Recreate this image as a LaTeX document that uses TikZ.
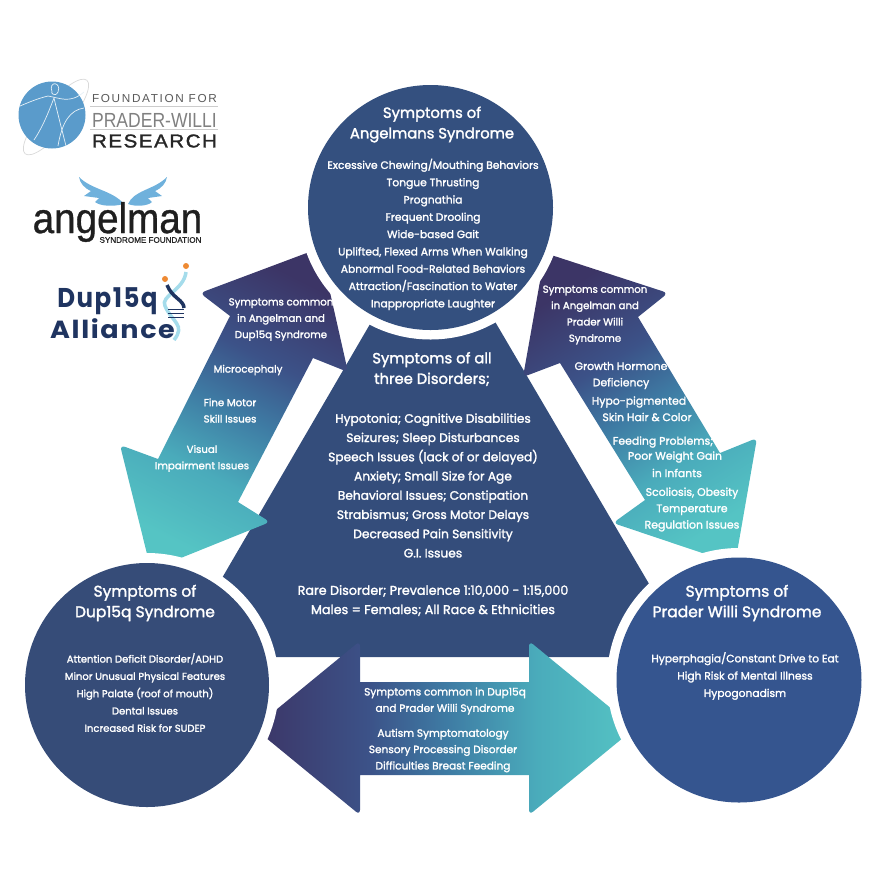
\documentclass[tikz,border=0pt]{standalone}
\usepackage{fontspec}
\usepackage{graphicx}
\setmainfont{Poppins}[FakeBold=1.8]
\newfontfamily\logofont{Liberation Sans}
\newfontfamily\allyfont{Poppins}
\definecolor{trianglec}{HTML}{344D7B}
\definecolor{topc}{HTML}{34507F}
\definecolor{dupc}{HTML}{364C78}
\definecolor{praderc}{HTML}{35558F}
\definecolor{darkc}{HTML}{3C3566}
\definecolor{deepc}{HTML}{3C5288}
\definecolor{midc}{HTML}{3E7AA3}
\definecolor{paletealc}{HTML}{4AABBB}
\definecolor{tealc}{HTML}{55C4C4}
\definecolor{wingc}{HTML}{6FB1DC}
\definecolor{fpwrc}{HTML}{5A9BCB}
\definecolor{navyc}{HTML}{1F3460}
\definecolor{helixc}{HTML}{A5DCEB}
\definecolor{dotc}{HTML}{EE8A33}
\pgfdeclareverticalshading{armshade}{100bp}{color(0bp)=(tealc); color(25bp)=(tealc); color(38bp)=(paletealc); color(50bp)=(midc); color(60bp)=(deepc); color(75bp)=(darkc); color(100bp)=(darkc)}
\tikzset{
  bodytext/.style={text=white,align=center,inner sep=0pt,font=\fontsize{5.7}{9.85}\selectfont},
  roundtext/.style={bodytext,font=\fontsize{6.1}{9.85}\selectfont},
  midtext/.style={bodytext,font=\fontsize{6.95}{10.95}\selectfont},
  raretext/.style={bodytext,font=\fontsize{7.25}{10.95}\selectfont},
  armtext/.style={bodytext,font=\fontsize{5.8}{9.3}\selectfont},
  armrtext/.style={bodytext,font=\fontsize{6.2}{9.3}\selectfont},
  armbtext/.style={bodytext,font=\fontsize{6}{9.3}\selectfont},
  titletext/.style={text=white,align=center,inner sep=0pt,font=\fontsize{8.4}{11.7}\selectfont},
  titlebtext/.style={titletext,font=\fontsize{8.8}{11.7}\selectfont},
  logotext/.style={inner sep=0pt},
}
\begin{document}
\begin{tikzpicture}[x=0.02cm,y=-0.02cm]
\useasboundingbox (0,0) rectangle (890,887);
% big triangle
\fill[trianglec] (433,216) -- (692,657) -- (176,657) -- cycle;
% arrows
\shade[shading=armshade,shading angle=-27]
  (320,248) [rounded corners=3pt] -- (200,293) [sharp corners] -- (230,316) -- (158,459) [rounded corners=3pt] -- (120,445) [sharp corners] -- (151,570) [rounded corners=3pt] -- (270,522) [sharp corners] -- (238,502) -- (313,358) [rounded corners=3pt] -- (348,372) [sharp corners] -- cycle;
\shade[shading=armshade,shading angle=32]
  (545,253) [rounded corners=3pt] -- (668,293) [sharp corners] -- (638,317) -- (720,453) [rounded corners=3pt] -- (757,438) [sharp corners] -- (735,564) [rounded corners=3pt] -- (613,523) [sharp corners] -- (645,500) -- (560,363) [rounded corners=3pt] -- (523,377) [sharp corners] -- cycle;
\shade[shading=armshade,shading angle=90]
  (254,728) [rounded corners=3pt] -- (360,641) [sharp corners] -- (360,682) -- (529,682) [rounded corners=3pt] -- (529,641) [sharp corners] -- (635,728) [rounded corners=3pt] -- (529,815) [sharp corners] -- (529,775) -- (360,775) [rounded corners=3pt] -- (360,815) [sharp corners] -- cycle;
% white rings
\fill[white] (430.5,207.5) circle (132);
\fill[white] (147,685) circle (132);
\fill[white] (739,680) circle (132);
% circles
\fill[topc] (430.5,207.5) circle (122.5);
\fill[dupc] (147,685) circle (122);
\fill[praderc] (739,680) circle (122.5);
% circle texts
\node[titletext] (angtitle) at (432,124.5) {Symptoms of\\Angelmans Syndrome};
\node[roundtext] (angbody) at (433,234.5) {Excessive Chewing/Mouthing Behaviors\\Tongue Thrusting\\Prognathia\\Frequent Drooling\\Wide-based Gait\\Uplifted, Flexed Arms When Walking\\Abnormal Food-Related Behaviors\\Attraction/Fascination to Water\\Inappropriate Laughter};
\node[titlebtext] (duptitle) at (145,603) {Symptoms of\\Dup15q Syndrome};
\node[bodytext] (dupbody) at (145,692.5) {Attention Deficit Disorder/ADHD\\Minor Unusual Physical Features\\High Palate (roof of mouth)\\Dental Issues\\Increased Risk for SUDEP};
\node[titlebtext] (pwstitle) at (737,603) {Symptoms of\\Prader Willi Syndrome};
\node[roundtext] (pwsbody) at (745,676) {Hyperphagia/Constant Drive to Eat\\High Risk of Mental Illness\\Hypogonadism};
% triangle texts
\node[titletext] (alltitle) at (432,369) {Symptoms of all\\three Disorders;};
\node[midtext] (allbody) at (433,485.5) {Hypotonia; Cognitive Disabilities\\Seizures; Sleep Disturbances\\Speech Issues (lack of or delayed)\\Anxiety; Small Size for Age\\Behavioral Issues; Constipation\\Strabismus; Gross Motor Delays\\Decreased Pain Sensitivity\\G.I. Issues};
\node[raretext] (allrare) at (433,600.5) {Rare Disorder; Prevalence 1:10,000 - 1:15,000\\Males = Females; All Race \& Ethnicities};
% left arrow texts
\node[armtext] (adhead) at (281,319.5) {Symptoms common\\in Angelman and\\Dup15q Syndrome};
\node[armtext] (admicro) at (248,370) {Microcephaly};
\node[armtext] (adfine) at (230,410.5) {Fine Motor\\Skill Issues};
\node[armtext] (advisual) at (202,458.5) {Visual\\Impairment Issues};
% right arrow texts
\node[armtext] (aphead) at (595,315) {Symptoms common\\in Angelman and\\Prader Willi\\Syndrome};
\node[armrtext] (apgrowth) at (621,375.5) {Growth Hormone\\Deficiency};
\node[armrtext] (aphypo) at (639,402) {Hypo-pigmented};
\node[armrtext] (apskin) at (647,417) {Skin Hair \& Color};
\node[armrtext] (apfeed) at (663,442) {Feeding Problems;};
\node[armrtext] (appoor) at (675,457) {Poor Weight Gain};
\node[armrtext] (apinf) at (677,473) {in Infants};
\node[armrtext] (apscol) at (692,509.5) {Scoliosis, Obesity\\Temperature\\Regulation Issues};
% bottom arrow texts
\node[armbtext] (dphead) at (445,701) {Symptoms common in Dup15q\\and Prader Willi Syndrome};
\node[armbtext] (dpbody) at (443,750.5) {Autism Symptomatology\\Sensory Processing Disorder\\Difficulties Breast Feeding};
% logo one
\draw[gray!30,rotate around={50:(56,117)}] (56,117) ellipse (48 and 14);
\fill[fpwrc] (52,115) circle (33.5);
\draw[white!85!fpwrc,thin] (52,92) .. controls (48,80) and (62,82) .. (58,92) .. controls (55,98) and (50,92) .. (52,92);
\draw[white!85!fpwrc,thin] (20,106) .. controls (34,100) and (40,98) .. (48,96) .. controls (60,98) and (70,104) .. (84,92);
\draw[white!85!fpwrc,thin] (34,140) .. controls (44,125) and (50,108) .. (54,98) .. controls (58,115) and (62,130) .. (66,146);
\draw[white!85!fpwrc,thin] (84,108) .. controls (70,110) and (62,122) .. (58,146);
\draw[gray!40] (90,106) -- (218,106);
\draw[gray!40] (90,129) -- (218,129);
\node[logotext] (fpwrfor) at (154.5,99) {\resizebox{71pt}{4.6pt}{\logofont\addfontfeature{LetterSpace=14}\color{black!65}FOUNDATION FOR}};
\node[logotext] (fpwrname) at (154.5,120) {\resizebox{71pt}{8pt}{\logofont\color{black!50}PRADER-WILLI}};
\node[logotext] (fpwrres) at (154.5,141) {\resizebox{71pt}{7.4pt}{\logofont\addfontfeature{LetterSpace=8,FakeBold=1.5}\color{black!85}RESEARCH}};
% logo two
\fill[wingc] (79,177) .. controls (92,190) and (112,190) .. (124,204) .. controls (112,207) and (100,206) .. (95,202) -- (99,198) -- (84,196) -- (91,191) .. controls (84,188) and (80,183) .. (79,177);
\fill[wingc] (167,177) .. controls (154,190) and (134,190) .. (128,204) .. controls (136,207) and (148,206) .. (152,202) -- (148,198) -- (162,196) -- (155,191) .. controls (162,188) and (166,183) .. (167,177);
\node[logotext] (angname) at (117.5,222) {\resizebox*{96.5pt}{22.7pt}{\logofont\addfontfeature{FakeBold=0.8}\color{black!88}angelman}};
\node[logotext] (angfound) at (150.5,240) {\resizebox{58pt}{!}{\logofont\addfontfeature{FakeBold=1}\color{black!85}SYNDROME FOUNDATION}};
% logo three
\node[logotext,anchor=base] (dupname) at (107.5,307) {\resizebox{57pt}{11.3pt}{\allyfont\addfontfeature{LetterSpace=6}\color{navyc}\bfseries Dup15q}};
\node[logotext,anchor=base] (dupally) at (112.5,338) {\resizebox{71pt}{11.3pt}{\allyfont\addfontfeature{LetterSpace=6}\color{navyc}\bfseries Alliance}};
\draw[helixc,line width=2pt] (186,272) .. controls (184,290) and (160,296) .. (165,306) .. controls (172,322) and (186,325) .. (174,340);
\draw[navyc,line width=2pt] (167,285) .. controls (172,298) and (184,300) .. (184,308);
\foreach \ypos in {309,313,317} {\draw[navyc,thin] (168,\ypos) -- (184,\ypos);}
\fill[dotc] (165,279) circle (3);
\fill[dotc] (186,266) circle (3);
\end{tikzpicture}
\end{document}
